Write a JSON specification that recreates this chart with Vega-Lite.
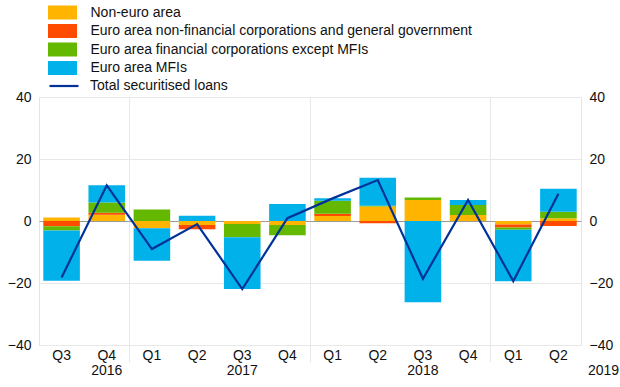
{
  "$schema": "https://vega.github.io/schema/vega-lite/v6.json",
  "autosize": {"type": "none"},
  "width": 542,
  "height": 248,
  "padding": {"left": 39, "top": 97, "right": 39, "bottom": 42},
  "background": "white",
  "config": {
    "view": {"stroke": "#e4e4e4", "strokeWidth": 1},
    "font": "Liberation Sans",
    "axis": {"labelFont": "Liberation Sans", "labelFontSize": 14, "labelColor": "#111", "title": null},
    "legend": {"labelFont": "Liberation Sans", "labelFontSize": 14, "labelColor": "#111", "labelLimit": 600}
  },
  "layer": [
    {
      "data": {"values": [
        {"period": "2016Q3", "series": "Non-euro area", "ord": 0, "value": 1.1},
        {"period": "2016Q3", "series": "Euro area non-financial corporations and general government", "ord": 1, "value": -1.7},
        {"period": "2016Q3", "series": "Euro area financial corporations except MFIs", "ord": 2, "value": -1.4},
        {"period": "2016Q3", "series": "Euro area MFIs", "ord": 3, "value": -16.2},
        {"period": "2016Q4", "series": "Non-euro area", "ord": 0, "value": 2.0},
        {"period": "2016Q4", "series": "Euro area non-financial corporations and general government", "ord": 1, "value": 0.65},
        {"period": "2016Q4", "series": "Euro area financial corporations except MFIs", "ord": 2, "value": 3.35},
        {"period": "2016Q4", "series": "Euro area MFIs", "ord": 3, "value": 5.5},
        {"period": "2017Q1", "series": "Non-euro area", "ord": 0, "value": -2.35},
        {"period": "2017Q1", "series": "Euro area non-financial corporations and general government", "ord": 1, "value": 0},
        {"period": "2017Q1", "series": "Euro area financial corporations except MFIs", "ord": 2, "value": 3.75},
        {"period": "2017Q1", "series": "Euro area MFIs", "ord": 3, "value": -10.45},
        {"period": "2017Q2", "series": "Non-euro area", "ord": 0, "value": -1.3},
        {"period": "2017Q2", "series": "Euro area non-financial corporations and general government", "ord": 1, "value": -1.4},
        {"period": "2017Q2", "series": "Euro area financial corporations except MFIs", "ord": 2, "value": 0},
        {"period": "2017Q2", "series": "Euro area MFIs", "ord": 3, "value": 1.7},
        {"period": "2017Q3", "series": "Non-euro area", "ord": 0, "value": -0.95},
        {"period": "2017Q3", "series": "Euro area non-financial corporations and general government", "ord": 1, "value": 0},
        {"period": "2017Q3", "series": "Euro area financial corporations except MFIs", "ord": 2, "value": -4.3},
        {"period": "2017Q3", "series": "Euro area MFIs", "ord": 3, "value": -16.7},
        {"period": "2017Q4", "series": "Non-euro area", "ord": 0, "value": -1.3},
        {"period": "2017Q4", "series": "Euro area non-financial corporations and general government", "ord": 1, "value": 0},
        {"period": "2017Q4", "series": "Euro area financial corporations except MFIs", "ord": 2, "value": -3.3},
        {"period": "2017Q4", "series": "Euro area MFIs", "ord": 3, "value": 5.5},
        {"period": "2018Q1", "series": "Non-euro area", "ord": 0, "value": 1.6},
        {"period": "2018Q1", "series": "Euro area non-financial corporations and general government", "ord": 1, "value": 0.75},
        {"period": "2018Q1", "series": "Euro area financial corporations except MFIs", "ord": 2, "value": 4.2},
        {"period": "2018Q1", "series": "Euro area MFIs", "ord": 3, "value": 0.75},
        {"period": "2018Q2", "series": "Non-euro area", "ord": 0, "value": 4.65},
        {"period": "2018Q2", "series": "Euro area non-financial corporations and general government", "ord": 1, "value": -0.75},
        {"period": "2018Q2", "series": "Euro area financial corporations except MFIs", "ord": 2, "value": 0.3},
        {"period": "2018Q2", "series": "Euro area MFIs", "ord": 3, "value": 9.0},
        {"period": "2018Q3", "series": "Non-euro area", "ord": 0, "value": 6.8},
        {"period": "2018Q3", "series": "Euro area non-financial corporations and general government", "ord": 1, "value": 0},
        {"period": "2018Q3", "series": "Euro area financial corporations except MFIs", "ord": 2, "value": 0.75},
        {"period": "2018Q3", "series": "Euro area MFIs", "ord": 3, "value": -26.2},
        {"period": "2018Q4", "series": "Non-euro area", "ord": 0, "value": 1.9},
        {"period": "2018Q4", "series": "Euro area non-financial corporations and general government", "ord": 1, "value": 0},
        {"period": "2018Q4", "series": "Euro area financial corporations except MFIs", "ord": 2, "value": 3.3},
        {"period": "2018Q4", "series": "Euro area MFIs", "ord": 3, "value": 1.6},
        {"period": "2019Q1", "series": "Non-euro area", "ord": 0, "value": -1.1},
        {"period": "2019Q1", "series": "Euro area non-financial corporations and general government", "ord": 1, "value": -1.0},
        {"period": "2019Q1", "series": "Euro area financial corporations except MFIs", "ord": 2, "value": -0.7},
        {"period": "2019Q1", "series": "Euro area MFIs", "ord": 3, "value": -16.6},
        {"period": "2019Q2", "series": "Non-euro area", "ord": 0, "value": 0.85},
        {"period": "2019Q2", "series": "Euro area non-financial corporations and general government", "ord": 1, "value": -1.6},
        {"period": "2019Q2", "series": "Euro area financial corporations except MFIs", "ord": 2, "value": 2.15},
        {"period": "2019Q2", "series": "Euro area MFIs", "ord": 3, "value": 7.4}
      ]},
      "mark": {"type": "bar", "width": {"band": 0.81}},
      "encoding": {
        "x": {"field": "period", "type": "ordinal", "scale": {"paddingInner": 0, "paddingOuter": 0},
          "axis": {"orient": "bottom", "labelExpr": "substring(datum.value, 4)", "ticks": false, "domain": false, "grid": false, "labelPadding": 3, "labelAngle": 0}},
        "y": {"field": "value", "type": "quantitative", "stack": "zero",
          "scale": {"domain": [-40, 40], "nice": false},
          "axis": {"orient": "left", "values": [-40, -20, 0, 20, 40], "ticks": false, "domain": false, "labelPadding": 8, "grid": true,
            "gridColor": {"condition": {"test": "datum.value === 0", "value": "#9a9a9a"}, "value": "#e8e8e8"}}},
        "fill": {"field": "series", "type": "nominal",
          "scale": {"domain": ["Non-euro area", "Euro area non-financial corporations and general government", "Euro area financial corporations except MFIs", "Euro area MFIs"],
            "range": ["#FFB400", "#FF4B00", "#65B800", "#00B1EA"]},
          "legend": {"title": null, "orient": "none", "legendX": 16.5, "legendY": -91.5, "symbolType": "M-2.07,-1H2.07V1H-2.07Z", "symbolSize": 196, "symbolStrokeWidth": 0, "labelOffset": 21, "rowPadding": 4.5}},
        "order": {"field": "ord", "type": "quantitative"}
      }
    },
    {
      "data": {"values": [
        {"period": "2016Q3", "total": -18.2},
        {"period": "2016Q4", "total": 11.5},
        {"period": "2017Q1", "total": -9.05},
        {"period": "2017Q2", "total": -1.0},
        {"period": "2017Q3", "total": -21.95},
        {"period": "2017Q4", "total": 0.9},
        {"period": "2018Q1", "total": 7.3},
        {"period": "2018Q2", "total": 13.2},
        {"period": "2018Q3", "total": -18.65},
        {"period": "2018Q4", "total": 6.8},
        {"period": "2019Q1", "total": -19.4},
        {"period": "2019Q2", "total": 8.8}
      ]},
      "mark": {"type": "line", "strokeWidth": 2.2},
      "encoding": {
        "x": {"field": "period", "type": "ordinal",
          "axis": {"orient": "bottom", "values": ["2016Q3", "2017Q1", "2018Q1", "2019Q1"], "bandPosition": 0, "domain": false, "grid": true,
            "gridColor": {"condition": {"test": "datum.value === '2016Q3'", "value": "transparent"}, "value": "#e8e8e8"},
            "tickColor": {"condition": {"test": "datum.value === '2016Q3'", "value": "transparent"}, "value": "#e8e8e8"},
            "tickSize": 17, "labelPadding": 1, "labelAngle": 0,
            "labelExpr": "substring(datum.value, 0, 4)",
            "labelOffset": {"condition": {"test": "datum.value === '2016Q3'", "value": 45.17}, "value": 90.33}}},
        "y": {"field": "total", "type": "quantitative",
          "axis": {"orient": "right", "values": [-40, -20, 0, 20, 40], "ticks": false, "domain": false, "labelPadding": 8, "grid": false}},
        "stroke": {"datum": "Total securitised loans", "type": "nominal",
          "scale": {"domain": ["Total securitised loans"], "range": ["#003299"]},
          "legend": {"title": null, "orient": "none", "legendX": 9, "legendY": -27, "symbolType": "stroke", "symbolSize": 841, "symbolStrokeWidth": 2.2, "labelOffset": 10}}
      }
    }
  ],
  "resolve": {"axis": {"x": "independent", "y": "independent"}, "scale": {"fill": "independent", "stroke": "independent"}}
}
